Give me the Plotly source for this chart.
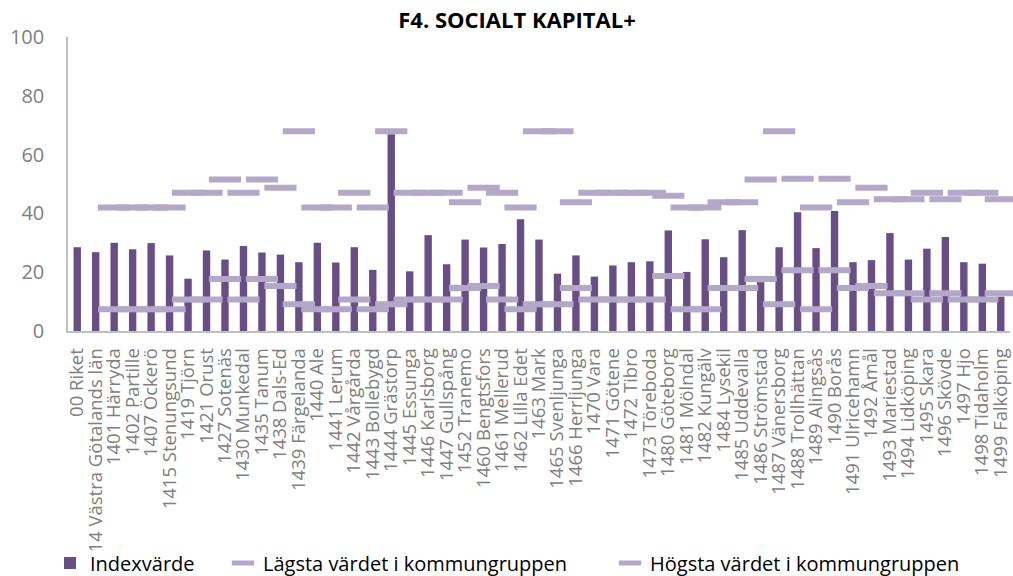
import plotly.graph_objects as go

categories = [
    "00 Riket", "14 Västra Götalands län", "1401 Härryda", "1402 Partille", "1407 Öckerö",
    "1415 Stenungsund", "1419 Tjörn", "1421 Orust", "1427 Sotenäs", "1430 Munkedal",
    "1435 Tanum", "1438 Dals-Ed", "1439 Färgelanda", "1440 Ale", "1441 Lerum",
    "1442 Vårgårda", "1443 Bollebygd", "1444 Grästorp", "1445 Essunga", "1446 Karlsborg",
    "1447 Gullspång", "1452 Tranemo", "1460 Bengtsfors", "1461 Mellerud", "1462 Lilla Edet",
    "1463 Mark", "1465 Svenljunga", "1466 Herrljunga", "1470 Vara", "1471 Götene",
    "1472 Tibro", "1473 Töreboda", "1480 Göteborg", "1481 Mölndal", "1482 Kungälv",
    "1484 Lysekil", "1485 Uddevalla", "1486 Strömstad", "1487 Vänersborg", "1488 Trollhättan",
    "1489 Alingsås", "1490 Borås", "1491 Ulricehamn", "1492 Åmål", "1493 Mariestad",
    "1494 Lidköping", "1495 Skara", "1496 Skövde", "1497 Hjo", "1498 Tidaholm",
    "1499 Falköping",
]

index_values = [
    28.5, 26.8, 30.0, 27.8, 29.9, 25.7, 17.8, 27.4, 24.3, 28.9,
    26.7, 26.0, 23.4, 30.0, 23.3, 28.5, 20.8, 66.9, 20.3, 32.6,
    22.7, 31.1, 28.4, 29.6, 38.0, 31.1, 19.5, 25.7, 18.5, 22.3,
    23.4, 23.7, 34.2, 20.1, 31.2, 25.1, 34.3, 16.6, 28.5, 40.4,
    28.2, 40.8, 23.4, 24.1, 33.3, 24.3, 28.0, 32.0, 23.4, 22.9,
    11.7,
]

low_values = [
    None, None, 7.4, 7.4, 7.4, 7.4, 10.7, 10.7, 17.7, 10.7,
    17.7, 15.3, 9.1, 7.4, 7.4, 10.7, 7.4, 9.1, 10.7, 10.7,
    10.7, 14.6, 15.3, 10.7, 7.4, 9.1, 9.1, 14.6, 10.7, 10.7,
    10.7, 10.7, 18.7, 7.4, 7.4, 14.6, 14.6, 17.7, 9.1, 20.7,
    7.4, 20.7, 14.6, 15.3, 12.8, 12.8, 10.7, 12.8, 10.7, 10.7,
    12.8,
]

high_values = [
    None, None, 42.0, 42.0, 42.0, 42.0, 47.0, 47.0, 51.5, 47.0,
    51.5, 48.7, 67.9, 42.0, 42.0, 47.0, 42.0, 67.9, 47.0, 47.0,
    47.0, 43.8, 48.7, 47.0, 42.0, 67.9, 67.9, 43.8, 47.0, 47.0,
    47.0, 47.0, 46.0, 42.0, 42.0, 43.8, 43.8, 51.5, 67.9, 51.8,
    42.0, 51.8, 43.8, 48.7, 44.8, 44.8, 47.0, 44.8, 47.0, 47.0,
    44.8,
]

y_ticks = [0, 20, 40, 60, 80, 100]

BAR = "#674f86"
MARK = "#b4a8c8"
GRAY = "#808080"
AXIS = "#c0c0c0"

fig = go.Figure()
fig.add_trace(go.Bar(
    x=categories, y=index_values, name="Indexvärde",
    marker=dict(color=BAR, line=dict(width=0)),
    legendwidth=128,
))
fig.add_trace(go.Scatter(
    x=categories, y=low_values, name="Lägsta värdet i kommungruppen",
    mode="markers", cliponaxis=False,
    marker=dict(symbol="line-ew", size=23, color=MARK, line=dict(color=MARK, width=6)),
    legendwidth=342,
))
fig.add_trace(go.Scatter(
    x=categories, y=high_values, name="Högsta värdet i kommungruppen",
    mode="markers", cliponaxis=False,
    marker=dict(symbol="line-ew", size=23, color=MARK, line=dict(color=MARK, width=6)),
))

fig.update_layout(
    width=1013, height=576,
    margin=dict(l=68, r=3, t=37, b=245, autoexpand=False),
    paper_bgcolor="white", plot_bgcolor="white",
    bargap=0.6,
    showlegend=True,
    title=dict(
        text="<b>F4. SOCIALT KAPITAL+</b>",
        x=517 / 1013, xanchor="center", xref="container",
        y=1 - 20 / 576, yanchor="middle", yref="container",
        font=dict(family="Open Sans", size=22, color="black"),
    ),
    legend=dict(
        orientation="h",
        xref="container", yref="container",
        x=50 / 1013, xanchor="left",
        y=1 - 563 / 576, yanchor="middle",
        font=dict(family="Open Sans", size=20, color="black"),
        bgcolor="rgba(0,0,0,0)",
        itemclick=False,
    ),
    font=dict(family="Open Sans"),
)

fig.update_xaxes(
    type="category", range=[-0.5, len(categories) - 0.5],
    tickmode="linear", tick0=0, dtick=1,
    showline=True, linecolor=AXIS, linewidth=1.5,
    showgrid=False, ticks="", tickangle=-90,
    tickfont=dict(family="Open Sans", size=18.5, color=GRAY),
    ticklabelstandoff=8, automargin=False,
)
fig.update_yaxes(
    range=[0, 100], tickvals=y_ticks,
    showline=True, linecolor=AXIS, linewidth=1.5,
    showgrid=False, ticks="", zeroline=False,
    tickfont=dict(family="Open Sans", size=20, color=GRAY),
    ticklabelstandoff=18, automargin=False,
)

fig.write_html(
    "out.html",
    config={"displayModeBar": False},
    post_script="document.body.style.margin='0px';",
)
